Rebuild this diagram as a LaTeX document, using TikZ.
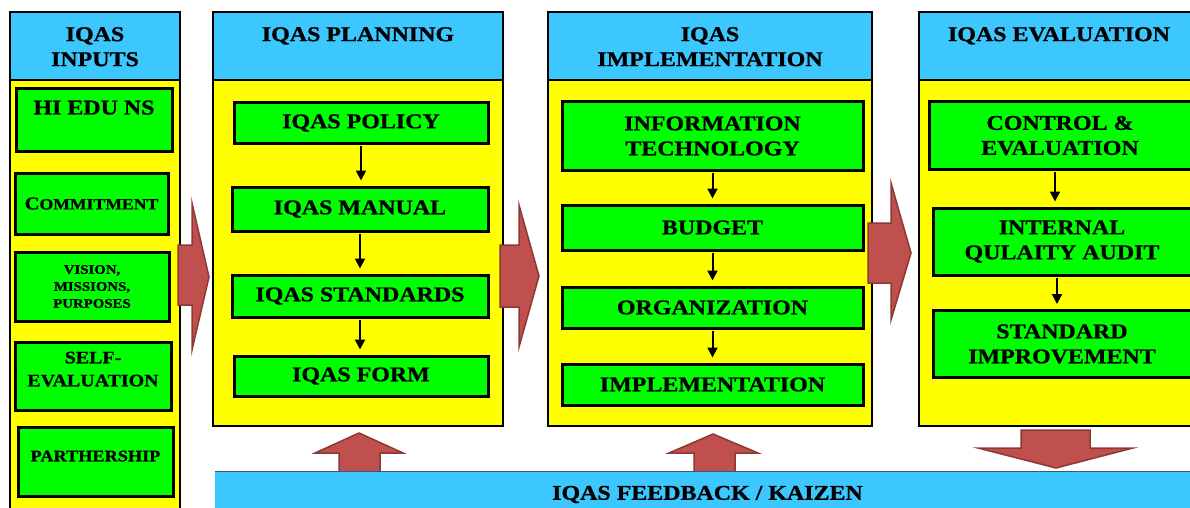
\documentclass[tikz,border=0pt]{standalone}
\usepackage{fontspec}
\setmainfont{Liberation Serif}[FakeStretch=1.14, BoldFont={Liberation Serif Bold}, BoldFeatures={FakeBold=1}]
\usetikzlibrary{arrows.meta,calc}
\definecolor{hdrblue}{RGB}{60,200,255}
\definecolor{colyellow}{RGB}{255,255,0}
\definecolor{boxgreen}{RGB}{0,255,0}
\definecolor{arrowred}{RGB}{192,80,77}
\definecolor{arrowedge}{RGB}{140,56,54}
\definecolor{baredge}{RGB}{60,90,110}
\tikzset{
  colframe/.style={draw=black, line width=2.5pt},
  greenbox/.style={draw=black, fill=boxgreen, line width=3pt, align=center, inner sep=0pt,
    font=\bfseries\fontsize{21}{25}\selectfont},
  hdrtext/.style={anchor=north, align=center, inner sep=0pt, font=\bfseries\fontsize{21}{25}\selectfont},
  flowarrow/.style={-{Triangle[length=10pt,width=10pt]}, line width=2pt, shorten <=1.5pt, shorten >=5pt},
  blockarrow/.style={fill=arrowred, draw=arrowedge, line width=1.5pt, line join=miter}
}
\begin{document}
\begin{tikzpicture}[x=1pt,y=-1pt]
\useasboundingbox (0,0) rectangle (1190,508);
% the four columns
\foreach \l/\r/\b in {10/180/520,213/503/426,548/872/426,919/1199/426}{
    \draw[colframe,fill=hdrblue] (\l,12) rectangle (\r,80);
    \draw[colframe,fill=colyellow] (\l,80) rectangle (\r,\b);
}
\node[hdrtext] (inputs) at (95,27) {IQAS\\INPUTS};
\node[hdrtext] (planning) at (358,27) {IQAS PLANNING};
\node[hdrtext] (implementation) at (710,27) {IQAS\\IMPLEMENTATION};
\node[hdrtext] (evaluation) at (1059,27) {IQAS EVALUATION};
% inputs
\node[greenbox, minimum width=156pt, minimum height=62pt] (hiedu) at (94,120) {HI EDU NS\\ ~};
\node[greenbox, minimum width=153pt, minimum height=61pt, font=\bfseries\fontsize{15.5}{18}\selectfont]
    (commit) at (91.5,203.5) {{\fontsize{18}{20}\selectfont C}OMMITMENT};
\node[greenbox, minimum width=154pt, minimum height=69pt, font=\bfseries\fontsize{13}{17}\selectfont]
    (vision) at (92,286.5) {VISION,\\MISSIONS,\\PURPOSES};
\node[greenbox, minimum width=156pt, minimum height=68pt, font=\bfseries\fontsize{17.5}{23}\selectfont]
    (selfeval) at (93,376) {SELF-\\EVALUATION\\[-9pt]~};
\node[greenbox, minimum width=155pt, minimum height=69pt, font=\bfseries\fontsize{16}{20}\selectfont]
    (partner) at (95.5,461.5) {PARTHERSHIP\\[-9pt]~};
% planning
\foreach \n/\x/\y/\w/\h/\t in {pl1/361/123/254/40/IQAS POLICY,pl2/360/209/256/44/IQAS MANUAL,
    pl3/360/296/256/42/IQAS STANDARDS,pl4/361/376/254/40/IQAS FORM}{
    \node[greenbox, minimum width=\w pt, minimum height=\h pt] (\n) at (\x,\y) {\t};
}
% implementation
\foreach \n/\y/\h/\t in {im1/136/68/{INFORMATION\\TECHNOLOGY},im2/227.5/45/BUDGET,
    im3/307.5/41/ORGANIZATION,im4/384.5/41/IMPLEMENTATION}{
    \node[greenbox, minimum width=301pt, minimum height=\h pt] (\n) at (712.5,\y) {\t};
}
% evaluation
\foreach \n/\x/\y/\w/\t in {ev1/1060/135.5/262/{CONTROL \&\\EVALUATION},
    ev2/1062/241.5/258/{INTERNAL\\QULAITY AUDIT},ev3/1062/344/258/{STANDARD\\IMPROVEMENT}}{
    \node[greenbox, minimum width=\w pt, minimum height=67pt] (\n) at (\x,\y) {\t};
}
% steps inside the columns
\foreach \a/\b in {pl1/pl2,pl2/pl3,pl3/pl4,im1/im2,im2/im3,im3/im4}{
    \draw[flowarrow] (\a.south) -- (\a.south |- \b.north);
}
\foreach \a/\b in {ev1/ev2,ev2/ev3}{
    \draw[flowarrow] ($(\a.south)+(-5,0)$) -- ($(\a.south |- \b.north)+(-5,0)$);
}
% block arrows
\draw[blockarrow] (178,245) -- (192,245) -- (192,203) -- (209,277) -- (192,350) -- (192,305) -- (178,305) -- cycle;
\draw[blockarrow] (500,245) -- (519,245) -- (519,205) -- (539,276) -- (519,347) -- (519,307) -- (500,307) -- cycle;
\draw[blockarrow] (868,223) -- (891,223) -- (891,183) -- (911,253) -- (891,320) -- (891,283) -- (868,283) -- cycle;
\draw[blockarrow] (339,476) -- (339,453) -- (315,453) -- (359,433) -- (403,453) -- (380,453) -- (380,476) -- cycle;
\draw[blockarrow] (694,476) -- (694,453) -- (669,453) -- (713,434) -- (758,453) -- (735,453) -- (735,476) -- cycle;
\draw[blockarrow] (1021,430) -- (1090,430) -- (1090,448) -- (1133,448) -- (1056,468) -- (978,448) -- (1021,448) -- cycle;
% feedback bar
\node[fill=hdrblue, minimum width=985pt, minimum height=45pt, inner sep=0pt,
    font=\bfseries\fontsize{21}{25}\selectfont] (feedback) at (707.5,494.5) {IQAS FEEDBACK / KAIZEN};
\draw[baredge, line width=1pt] (feedback.north west) -- (feedback.north east);
\end{tikzpicture}
\end{document}
